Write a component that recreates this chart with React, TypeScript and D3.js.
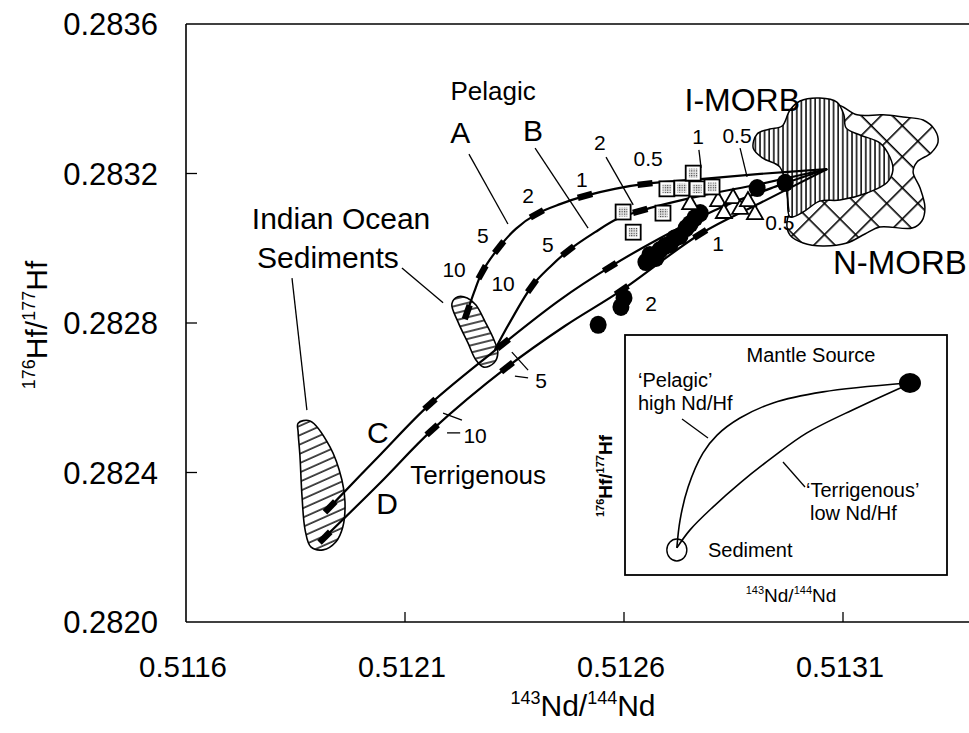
import React from "react";
import * as d3 from "d3";

type P = [number, number];

// ---------- axis ticks ----------
const X_TICKS = [0.5116, 0.5121, 0.5126, 0.5131];
const Y_TICKS = [0.282, 0.2824, 0.2828, 0.2832, 0.2836];

// ---------- mixing curves (143Nd/144Nd, 176Hf/177Hf) ----------
const curveA: P[] = [
  [0.512242, 0.282829], [0.512258, 0.282883], [0.512276, 0.282936], [0.512315, 0.283003],
  [0.512353, 0.283052], [0.512401, 0.283092], [0.512454, 0.283118], [0.512511, 0.28314],
  [0.512579, 0.283159], [0.512648, 0.283172], [0.512774, 0.283185], [0.512911, 0.283199],
  [0.513064, 0.283212],
];
const curveATicks = [0, 2, 3, 5, 7, 9];

const curveB: P[] = [
  [0.512305, 0.282728], [0.51234, 0.282803], [0.51239, 0.282899], [0.512431, 0.28295],
  [0.512472, 0.282993], [0.512534, 0.283043], [0.512584, 0.283078], [0.512637, 0.2831],
  [0.512774, 0.28314], [0.512911, 0.283172], [0.513064, 0.283212],
];
const curveBTicks = [2, 4, 7];

const curveC: P[] = [
  [0.511929, 0.282308], [0.512043, 0.282447], [0.512157, 0.282583], [0.512324, 0.282744],
  [0.512454, 0.282862], [0.512568, 0.28295], [0.512682, 0.283027], [0.512819, 0.283108],
  [0.512956, 0.283169], [0.513064, 0.283212],
];
const curveCTicks = [0, 2, 3, 5];

const curveD: P[] = [
  [0.511917, 0.282227], [0.512043, 0.282372], [0.512162, 0.282514], [0.512333, 0.282682],
  [0.512465, 0.282792], [0.512595, 0.282888], [0.512774, 0.283038], [0.512911, 0.283121],
  [0.513064, 0.283212],
];
const curveDTicks = [0, 2, 3, 5, 6];

// ---------- data points ----------
const circlePts: P[] = [
  [0.512541, 0.282795], [0.5126, 0.282867], [0.512593, 0.282843],
  [0.51265, 0.282963], [0.512659, 0.282982], [0.512673, 0.282974], [0.512682, 0.282995],
  [0.512694, 0.283006], [0.512705, 0.283011], [0.512716, 0.283027], [0.512728, 0.283033],
  [0.512742, 0.283054], [0.512751, 0.283065], [0.512762, 0.283081], [0.512774, 0.283094],
  [0.512904, 0.283161], [0.512968, 0.283175],
];
const squarePts: P[] = [
  [0.512598, 0.283097], [0.512621, 0.283043], [0.512689, 0.283094], [0.512698, 0.283159],
  [0.512732, 0.283161], [0.512758, 0.283201], [0.512767, 0.283159], [0.512801, 0.283164],
];
const trianglePts: P[] = [
  [0.512751, 0.283121], [0.512815, 0.283129], [0.512828, 0.283097], [0.512849, 0.283137],
  [0.512865, 0.283108], [0.512883, 0.283129], [0.512899, 0.283094],
];

// ---------- fields ----------
const indianSmall: P[] = [
  [0.512207, 0.282851], [0.512221, 0.28287], [0.512242, 0.282867], [0.512262, 0.282848],
  [0.512283, 0.282803], [0.512303, 0.282755], [0.512312, 0.282722], [0.512303, 0.282693],
  [0.51228, 0.282682], [0.512262, 0.282701], [0.512244, 0.282746], [0.512221, 0.282803],
];
const indianLarge: P[] = [
  [0.511856, 0.282532], [0.511883, 0.282538], [0.511929, 0.282468], [0.511956, 0.28238],
  [0.511963, 0.282321], [0.511958, 0.282254], [0.511942, 0.282214], [0.511913, 0.282193],
  [0.511885, 0.282201], [0.511872, 0.282246], [0.511865, 0.282334], [0.51186, 0.282447],
  [0.511856, 0.282508],
];
const iMorb: P[] = [
  [0.512895, 0.283268], [0.512904, 0.283306], [0.512933, 0.283319], [0.512961, 0.283327],
  [0.512979, 0.28337], [0.513002, 0.283394], [0.513047, 0.283402], [0.513086, 0.283391],
  [0.513102, 0.283357], [0.513107, 0.283322], [0.513139, 0.283303], [0.513184, 0.283282],
  [0.513207, 0.283244], [0.513214, 0.283209], [0.5132, 0.283175], [0.513155, 0.283148],
  [0.513093, 0.283129], [0.513047, 0.283126], [0.513009, 0.283097], [0.512979, 0.283084],
  [0.512972, 0.283148], [0.512956, 0.283217], [0.512917, 0.283241],
];
const nMorb: P[] = [
  [0.513086, 0.283383], [0.513132, 0.283357], [0.513191, 0.283357], [0.513237, 0.283351],
  [0.513283, 0.283343], [0.51331, 0.283316], [0.513317, 0.283284], [0.513301, 0.283255],
  [0.513269, 0.283231], [0.51326, 0.283204], [0.513276, 0.283161], [0.513287, 0.28311],
  [0.51328, 0.283073], [0.513258, 0.283054], [0.513184, 0.283057], [0.51315, 0.283038],
  [0.513109, 0.283014], [0.513054, 0.283006], [0.513009, 0.283014], [0.512979, 0.283035],
  [0.512972, 0.28307], [0.513002, 0.283156], [0.51307, 0.283316],
];

// ---------- annotations ----------
const tickLabels: { t: string; p: P }[] = [
  { t: "10", p: [0.512212, 0.282942] }, { t: "5", p: [0.512278, 0.283035] },
  { t: "2", p: [0.512381, 0.283142] }, { t: "1", p: [0.512504, 0.283183] },
  { t: "0.5", p: [0.512655, 0.283241] },
  { t: "10", p: [0.512324, 0.282907] }, { t: "5", p: [0.512426, 0.283009] },
  { t: "2", p: [0.512545, 0.283282] }, { t: "1", p: [0.512769, 0.283298] },
  { t: "0.5", p: [0.512858, 0.283303] },
  { t: "10", p: [0.51226, 0.2825] }, { t: "5", p: [0.512411, 0.282647] },
  { t: "2", p: [0.512662, 0.282851] }, { t: "1", p: [0.512815, 0.283014] },
  { t: "0.5", p: [0.512956, 0.28307] },
];
const leaders: [P, P][] = [
  [[0.512246, 0.283252], [0.512335, 0.283065]],
  [[0.512397, 0.283268], [0.512518, 0.283054]],
  [[0.511842, 0.28292], [0.511876, 0.282567]],
  [[0.512093, 0.282947], [0.512187, 0.282854]],
  [[0.512559, 0.283244], [0.512621, 0.283116]],
  [[0.512771, 0.283263], [0.512776, 0.283215]],
  [[0.512865, 0.283268], [0.512881, 0.283191]],
  [[0.512196, 0.282506], [0.512226, 0.282506]],
  [[0.512187, 0.282559], [0.51223, 0.28254]],
  [[0.512351, 0.282658], [0.512381, 0.282653]],
  [[0.512344, 0.282722], [0.512381, 0.282674]],
  [[0.512972, 0.283148], [0.512977, 0.283097]],
];
const bigLabels: { t: string; p: P; size: number }[] = [
  { t: "A", p: [0.512226, 0.283311], size: 30 },
  { t: "B", p: [0.512392, 0.283316], size: 30 },
  { t: "Pelagic", p: [0.512301, 0.283423], size: 26 },
  { t: "Indian Ocean", p: [0.511954, 0.283081], size: 30 },
  { t: "Sediments", p: [0.511924, 0.282977], size: 30 },
  { t: "C", p: [0.512038, 0.282508], size: 30 },
  { t: "D", p: [0.512059, 0.282318], size: 30 },
  { t: "Terrigenous", p: [0.512267, 0.282393], size: 26 },
  { t: "I-MORB", p: [0.51287, 0.283397], size: 32 },
  { t: "N-MORB", p: [0.51323, 0.282963], size: 33 },
];

// ---------- inset schematic (normalised 0..1) ----------
const insetPelagic: P[] = [
  [0.161, 0.113], [0.171, 0.229], [0.196, 0.367], [0.242, 0.508], [0.286, 0.583],
  [0.357, 0.654], [0.46, 0.717], [0.615, 0.763], [0.876, 0.8],
];
const insetTerr: P[] = [
  [0.161, 0.113], [0.202, 0.188], [0.273, 0.283], [0.357, 0.383], [0.46, 0.492],
  [0.565, 0.592], [0.72, 0.696], [0.876, 0.792],
];
const insetMantle: P = [0.885, 0.8];
const insetSediment: P = [0.161, 0.104];

const FONT = "'Liberation Sans', Arial, Helvetica, sans-serif";

export default function App() {
  const W = 969, H = 733;
  const x = d3.scaleLinear().domain([0.5116, 0.5131]).range([186, 843]);
  const y = d3.scaleLinear().domain([0.282, 0.2836]).range([622, 24]);
  const ix = d3.scaleLinear().domain([0, 1]).range([625, 947]);
  const iy = d3.scaleLinear().domain([0, 1]).range([575, 335]);

  const line = d3.line<P>().x(d => x(d[0])).y(d => y(d[1])).curve(d3.curveCatmullRom.alpha(0.5));
  const area = d3.line<P>().x(d => x(d[0])).y(d => y(d[1])).curve(d3.curveCatmullRomClosed.alpha(0.5));
  const iline = d3.line<P>().x(d => ix(d[0])).y(d => iy(d[1])).curve(d3.curveCatmullRom.alpha(0.5));

  const tickBars = (pts: P[], idx: number[], key: string) =>
    idx.map(i => {
      const a = pts[Math.max(0, i - 1)], b = pts[Math.min(pts.length - 1, i + 1)];
      const ang = (Math.atan2(y(b[1]) - y(a[1]), x(b[0]) - x(a[0])) * 180) / Math.PI;
      return (
        <rect key={key + i} x={-7.5} y={-3.2} width={15} height={6.4} fill="#000"
          transform={`translate(${x(pts[i][0])},${y(pts[i][1])}) rotate(${ang})`} />
      );
    });

  const curves: [P[], number[], string][] = [
    [curveA, curveATicks, "A"], [curveB, curveBTicks, "B"],
    [curveC, curveCTicks, "C"], [curveD, curveDTicks, "D"],
  ];

  return (
    <svg width={W} height={H} style={{ position: "absolute", left: 0, top: 0, background: "#fff" }}
      fontFamily={FONT}>
      <defs>
        <pattern id="vh" patternUnits="userSpaceOnUse" width={4.6} height={10}>
          <rect width={4.6} height={10} fill="#fff" />
          <line x1={1} y1={0} x2={1} y2={10} stroke="#000" strokeWidth={1.5} />
        </pattern>
        <pattern id="xh" patternUnits="userSpaceOnUse" width={22} height={22} patternTransform="rotate(45)">
          <rect width={22} height={22} fill="#fff" />
          <line x1={0} y1={0.8} x2={22} y2={0.8} stroke="#000" strokeWidth={1.6} />
          <line x1={0.8} y1={0} x2={0.8} y2={22} stroke="#000" strokeWidth={1.6} />
        </pattern>
        <pattern id="hs" patternUnits="userSpaceOnUse" width={10} height={7} patternTransform="rotate(-14)">
          <rect width={10} height={7} fill="#fff" />
          <line x1={0} y1={1} x2={10} y2={1} stroke="#000" strokeWidth={1.4} />
        </pattern>
        <pattern id="hl" patternUnits="userSpaceOnUse" width={10} height={8.5} patternTransform="rotate(-24)">
          <rect width={10} height={8.5} fill="#fff" />
          <line x1={0} y1={1} x2={10} y2={1} stroke="#000" strokeWidth={1.4} />
        </pattern>
        <pattern id="dots" patternUnits="userSpaceOnUse" width={2.4} height={2.4}>
          <rect width={2.4} height={2.4} fill="#e6e6e6" />
          <rect x={0} y={0} width={1.1} height={1.1} fill="#333" />
        </pattern>
      </defs>

      {/* frame / axes */}
      <g stroke="#000" strokeWidth={1.6} fill="none">
        <line x1={186} y1={24} x2={186} y2={622} />
        <line x1={186} y1={622} x2={W} y2={622} />
        <line x1={186} y1={24} x2={W} y2={24} />
      </g>
      {Y_TICKS.map(v => (
        <g key={"y" + v}>
          {v > 0.282 && v < 0.2836 && <line x1={186} x2={197} y1={y(v)} y2={y(v)} stroke="#000" strokeWidth={1.3} />}
          <text x={158} y={y(v)} dy="0.36em" textAnchor="end" fontSize={31}>{d3.format(".4f")(v)}</text>
        </g>
      ))}
      {X_TICKS.map(v => (
        <g key={"x" + v}>
          {v > 0.5116 && <line x1={x(v)} x2={x(v)} y1={622} y2={612} stroke="#000" strokeWidth={1.3} />}
          <text x={x(v) - 3} y={677} textAnchor="middle" fontSize={30} textLength={88}
            lengthAdjust="spacingAndGlyphs">{d3.format(".4f")(v)}</text>
        </g>
      ))}
      <text x={583} y={716} textAnchor="middle" fontSize={30}>
        <tspan fontSize={18} dy={-12}>143</tspan>
        <tspan dy={12}>Nd/</tspan>
        <tspan fontSize={18} dy={-12}>144</tspan>
        <tspan dy={12}>Nd</tspan>
      </text>
      <text transform="translate(47,325) rotate(-90)" textAnchor="middle" fontSize={30}>
        <tspan fontSize={18} dy={-12}>176</tspan>
        <tspan dy={12}>Hf/</tspan>
        <tspan fontSize={18} dy={-12}>177</tspan>
        <tspan dy={12}>Hf</tspan>
      </text>

      {/* fields */}
      <path d={area(nMorb) || ""} fill="url(#xh)" stroke="#000" strokeWidth={1.5} />
      <path d={area(iMorb) || ""} fill="url(#vh)" stroke="#000" strokeWidth={1.5} />
      <path d={area(indianSmall) || ""} fill="url(#hs)" stroke="#000" strokeWidth={1.6} />
      <path d={area(indianLarge) || ""} fill="url(#hl)" stroke="#000" strokeWidth={1.6} />

      {/* mixing curves */}
      {curves.map(([pts, idx, k]) => (
        <g key={k}>
          <path d={line(pts) || ""} fill="none" stroke="#000" strokeWidth={2.2} />
          {tickBars(pts, idx, k)}
        </g>
      ))}

      {/* leaders */}
      {leaders.map((l, i) => (
        <line key={"l" + i} x1={x(l[0][0])} y1={y(l[0][1])} x2={x(l[1][0])} y2={y(l[1][1])}
          stroke="#000" strokeWidth={1.3} />
      ))}

      {/* data */}
      {circlePts.map((d, i) => (
        <ellipse key={"c" + i} cx={x(d[0])} cy={y(d[1])} rx={8.5} ry={9} fill="#000" />
      ))}
      {trianglePts.map((d, i) => {
        const cx = x(d[0]), cy = y(d[1]);
        return (
          <path key={"t" + i} d={`M${cx},${cy - 8}L${cx + 8},${cy + 6}L${cx - 8},${cy + 6}Z`}
            fill="#fff" stroke="#000" strokeWidth={1.8} />
        );
      })}
      {squarePts.map((d, i) => {
        const cx = x(d[0]), cy = y(d[1]);
        return (
          <g key={"s" + i}>
            <rect x={cx - 7.5} y={cy - 7.5} width={15} height={15} fill="#fff" stroke="#000" strokeWidth={1.8} />
            <rect x={cx - 4.5} y={cy - 4.5} width={9} height={9} fill="url(#dots)" />
          </g>
        );
      })}

      {/* text */}
      {tickLabels.map((l, i) => (
        <text key={"tl" + i} x={x(l.p[0])} y={y(l.p[1])} dy="0.36em" textAnchor="middle" fontSize={21}>
          {l.t}
        </text>
      ))}
      {bigLabels.map((l, i) => (
        <text key={"bl" + i} x={x(l.p[0])} y={y(l.p[1])} dy="0.36em" textAnchor="middle" fontSize={l.size}>
          {l.t}
        </text>
      ))}

      {/* inset */}
      <rect x={ix(0)} y={iy(1)} width={ix(1) - ix(0)} height={iy(0) - iy(1)} fill="#fff" stroke="#000" strokeWidth={1.8} />
      <path d={iline(insetPelagic) || ""} fill="none" stroke="#000" strokeWidth={1.6} />
      <path d={iline(insetTerr) || ""} fill="none" stroke="#000" strokeWidth={1.6} />
      <ellipse cx={ix(insetMantle[0])} cy={iy(insetMantle[1])} rx={11} ry={10} fill="#000" />
      <ellipse cx={ix(insetSediment[0])} cy={iy(insetSediment[1])} rx={10} ry={11} fill="none" stroke="#000" strokeWidth={1.4} />
      <line x1={682} y1={419} x2={708} y2={438} stroke="#000" strokeWidth={1.3} />
      <line x1={783} y1={462} x2={805} y2={487} stroke="#000" strokeWidth={1.3} />
      <g fontSize={20}>
        <text x={811} y={355} dy="0.36em" textAnchor="middle">Mantle Source</text>
        <text x={638} y={380} dy="0.36em">{"\u2018Pelagic\u2019"}</text>
        <text x={638} y={403} dy="0.36em">high Nd/Hf</text>
        <text x={806} y={490} dy="0.36em">{"\u2018Terrigenous\u2019"}</text>
        <text x={810} y={513} dy="0.36em">low Nd/Hf</text>
        <text x={708} y={550} dy="0.36em">Sediment</text>
      </g>
      <text x={791} y={602} textAnchor="middle" fontSize={19}>
        <tspan fontSize={11} dy={-8}>143</tspan>
        <tspan dy={8}>Nd/</tspan>
        <tspan fontSize={11} dy={-8}>144</tspan>
        <tspan dy={8}>Nd</tspan>
      </text>
      <text transform="translate(612,476) rotate(-90)" textAnchor="middle" fontSize={19} fontWeight="bold">
        <tspan fontSize={11} dy={-8}>176</tspan>
        <tspan dy={8}>Hf/</tspan>
        <tspan fontSize={11} dy={-8}>177</tspan>
        <tspan dy={8}>Hf</tspan>
      </text>
    </svg>
  );
}
